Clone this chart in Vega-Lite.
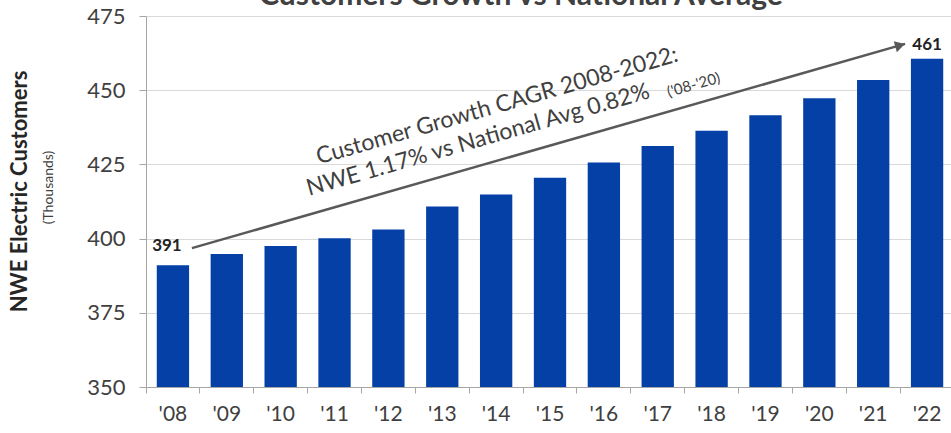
{
  "$schema": "https://vega.github.io/schema/vega-lite/v6.json",
  "width": 808,
  "height": 371,
  "autosize": {"type": "none"},
  "padding": {"left": 146, "top": 16, "right": 0, "bottom": 46},
  "background": "white",
  "config": {"view": {"stroke": null}, "font": "Lato"},
  "title": {"text": "Customers Growth vs National Average", "fontSize": 30, "fontWeight": "bold", "color": "#404040", "anchor": "middle", "dx": -29, "offset": -30, "baseline": "alphabetic"},
  "datasets": {
    "bars": [
      {"year": "'08", "value": 391},
      {"year": "'09", "value": 394.8},
      {"year": "'10", "value": 397.5},
      {"year": "'11", "value": 400.1},
      {"year": "'12", "value": 403.1},
      {"year": "'13", "value": 410.8},
      {"year": "'14", "value": 414.9},
      {"year": "'15", "value": 420.5},
      {"year": "'16", "value": 425.6},
      {"year": "'17", "value": 431.2},
      {"year": "'18", "value": 436.3},
      {"year": "'19", "value": 441.6},
      {"year": "'20", "value": 447.3},
      {"year": "'21", "value": 453.4},
      {"year": "'22", "value": 460.6}
    ],
    "arrow": [{"year": "'08", "value": 396.8, "year2": "'22", "value2": 465.6}],
    "head": [{"year": "'22", "value": 465.1}],
    "end1": [{"year": "'08", "value": 397.5, "label": "391"}],
    "end2": [{"year": "'22", "value": 465.2, "label": "461"}],
    "note1": [{"year": "'14", "value": 444.7, "label": "Customer Growth CAGR 2008-2022:"}],
    "note2": [{"year": "'14", "value": 433.2, "label": "NWE 1.17% vs National Avg 0.82%"}],
    "note3": [{"year": "'18", "value": 451.8, "label": "('08-'20)"}]
  },
  "layer": [
    {
      "encoding": {
        "x": {
          "field": "year", "type": "nominal", "sort": null,
          "scale": {"domain": ["'08","'09","'10","'11","'12","'13","'14","'15","'16","'17","'18","'19","'20","'21","'22"], "paddingInner": 0, "paddingOuter": 0},
          "axis": {"title": null, "labelAngle": 0, "labelFontSize": 21, "labelColor": "#404040", "labelPadding": 10, "bandPosition": 0, "tickSize": 6, "tickColor": "#a6a6a6", "domainColor": "#a6a6a6", "grid": false, "zindex": 1}
        },
        "y": {
          "field": "value", "type": "quantitative",
          "scale": {"domain": [350, 475], "zero": false, "nice": false},
          "axis": {"values": [350, 375, 400, 425, 450, 475], "title": "(Thousands)", "titleFontSize": 14, "titleFontWeight": "normal", "titleColor": "#404040", "titleX": -91, "titleY": 171, "titleAlign": "center", "labelFontSize": 22, "labelColor": "#404040", "labelPadding": 14, "tickSize": 7, "tickColor": "#a6a6a6", "domainColor": "#a6a6a6", "gridColor": "#d9d9d9"}
        }
      },
      "layer": [
        {"data": {"name": "bars"}, "mark": {"type": "bar", "width": {"band": 0.6}, "color": "#0540A6", "clip": true}},
        {"data": {"name": "arrow"}, "mark": {"type": "rule", "color": "#595959", "strokeWidth": 2.5, "xOffset": 19, "x2Offset": -22},
         "encoding": {"x2": {"field": "year2"}, "y2": {"field": "value2"}}},
        {"data": {"name": "head"}, "mark": {"type": "point", "shape": "triangle-right", "filled": true, "opacity": 1, "color": "#595959", "size": 130, "angle": -16, "xOffset": -27}},
        {"data": {"name": "end1"}, "mark": {"type": "text", "fontSize": 17, "fontWeight": "bold", "color": "#222222", "align": "center", "baseline": "middle", "xOffset": -6},
         "encoding": {"text": {"field": "label"}}},
        {"data": {"name": "end2"}, "mark": {"type": "text", "fontSize": 17, "fontWeight": "bold", "color": "#222222", "align": "center", "baseline": "middle"},
         "encoding": {"text": {"field": "label"}}},
        {"data": {"name": "note1"}, "mark": {"type": "text", "fontSize": 23, "color": "#404040", "angle": -16, "align": "center", "baseline": "middle", "xOffset": 1},
         "encoding": {"text": {"field": "label"}}},
        {"data": {"name": "note2"}, "mark": {"type": "text", "fontSize": 23, "color": "#404040", "angle": -16, "align": "center", "baseline": "middle", "xOffset": -18},
         "encoding": {"text": {"field": "label"}}},
        {"data": {"name": "note3"}, "mark": {"type": "text", "fontSize": 15, "color": "#404040", "angle": -16, "align": "center", "baseline": "middle", "xOffset": -18},
         "encoding": {"text": {"field": "label"}}}
      ]
    },
    {
      "data": {"name": "bars"},
      "mark": {"type": "point", "opacity": 0},
      "encoding": {
        "y": {
          "field": "value", "type": "quantitative",
          "scale": {"domain": [350, 475], "zero": false, "nice": false},
          "axis": {"orient": "left", "title": "NWE Electric Customers", "titleFontSize": 22, "titleFontWeight": "bold", "titleColor": "#262626", "titleX": -115, "titleY": 175, "titleAlign": "center", "labels": false, "ticks": false, "domain": false, "grid": false}
        }
      }
    }
  ],
  "resolve": {"axis": {"y": "independent"}}
}
